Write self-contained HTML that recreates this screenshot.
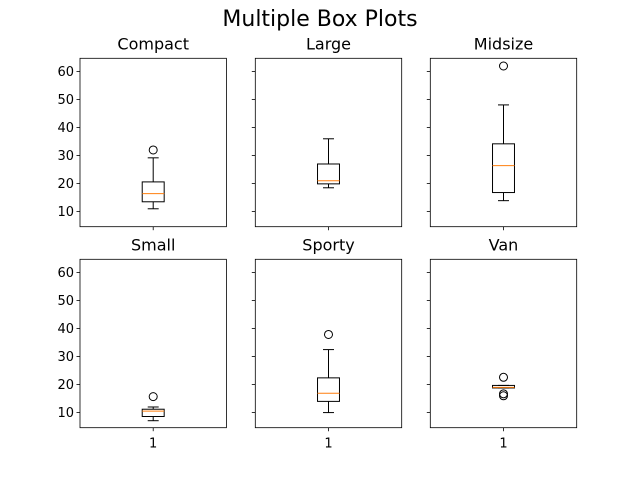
<!DOCTYPE html>
<html><head><meta charset="utf-8"><style>
body{margin:0;background:#fff}
svg{display:block;font-family:"DejaVu Sans","Liberation Sans",sans-serif}
</style></head><body>
<svg id="c" width="640" height="480">
<text x="320" y="26" text-anchor="middle" font-size="22">Multiple Box Plots</text>
</svg>
<script>
const categories=["Compact","Large","Midsize","Small","Sporty","Van"];
const whiskerLow=[11.0,18.5,13.9,7.1,10.0,18.8];
const q1=[13.5,19.9,16.8,8.6,14.0,18.8];
const medians=[16.4,21.0,26.4,10.5,16.9,19.0];
const q3=[20.6,27.0,34.2,11.2,22.4,19.7];
const whiskerHigh=[29.2,36.0,48.1,12.0,32.5,19.7];
const fliers=[[32.0],[],[62.0],[15.7],[37.9],[22.6,16.7,16.0]];
const yTicks=[10,20,30,40,50,60];
const xTickLabels=["1"];
const NS="http://www.w3.org/2000/svg";
const svg=document.getElementById('c');
const colX=[80,255.3,430.3], rowY=[58.3,259.3], W=146.4, H=168.4;
const yMin=4.6, yMax=64.75;
function mk(t,a){const e=document.createElementNS(NS,t);for(const k in a)e.setAttribute(k,a[k]);svg.appendChild(e);return e;}
categories.forEach((cat,i)=>{
  const r=Math.floor(i/3), c=i%3, x0=colX[c], y0=rowY[r];
  const y=v=>y0+H-(v-yMin)/(yMax-yMin)*H;
  const x=v=>x0+(v-0.5)*W;
  const t=mk('text',{x:x0+W/2,y:y0-9,'text-anchor':'middle','font-size':'16'});t.textContent=cat;
  
  
  yTicks.forEach(v=>{
    const tk=mk('line',{x1:x0-3.5,x2:x0,y1:y(v),y2:y(v),stroke:'#000','stroke-width':0.8});
    
    
    if(c===0){const l=mk('text',{x:x0-6,y:y(v)+4.5,'text-anchor':'end','font-size':'13'});l.textContent=v;
      
      }
  });
  const xt=mk('line',{x1:x(1),x2:x(1),y1:y0+H,y2:y0+H+3.5,stroke:'#000','stroke-width':0.8});
  
  
  if(r===1){const l=mk('text',{x:x(1),y:y0+H+20,'text-anchor':'middle','font-size':'13'});l.textContent=xTickLabels[0];
    
    }
  const bw=0.15*W, cx=x(1);
  const g=[];
  g.push(mk('line',{x1:cx,x2:cx,y1:y(q1[i]),y2:y(whiskerLow[i]),stroke:'#000'}));
  g.push(mk('line',{x1:cx,x2:cx,y1:y(q3[i]),y2:y(whiskerHigh[i]),stroke:'#000'}));
  g.push(mk('line',{x1:cx-bw/4,x2:cx+bw/4,y1:y(whiskerLow[i]),y2:y(whiskerLow[i]),stroke:'#000'}));
  g.push(mk('line',{x1:cx-bw/4,x2:cx+bw/4,y1:y(whiskerHigh[i]),y2:y(whiskerHigh[i]),stroke:'#000'}));
  const box=mk('rect',{x:cx-bw/2,y:y(q3[i]),width:bw,height:Math.max(0.5,y(q1[i])-y(q3[i])),fill:'none',stroke:'#000'});
  
  
  const md=mk('line',{x1:cx-bw/2,x2:cx+bw/2,y1:y(medians[i]),y2:y(medians[i]),stroke:'#ff7f0e'});
  
  
  g.forEach(e=>{});
  fliers[i].forEach(v=>{
    const f=mk('circle',{cx:cx,cy:y(v),r:4,fill:'none',stroke:'#000'});
    
    
  });
  const fr=mk('rect',{x:x0,y:y0,width:W,height:H,fill:'none',stroke:'#000','stroke-width':0.8});
  
  
});
</script>
</body></html>
